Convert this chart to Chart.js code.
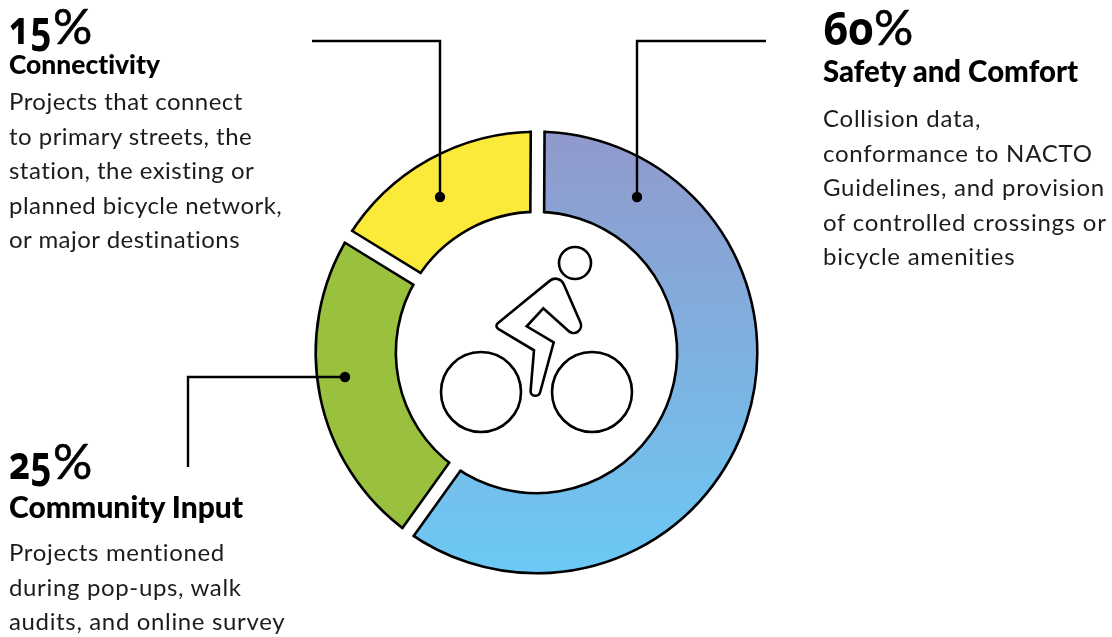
<!DOCTYPE html>
<html>
<head>
<meta charset="utf-8">
<title>Project scoring criteria</title>
<script src="https://cdn.jsdelivr.net/npm/chart.js@4"></script>
<style>
  html, body { margin: 0; padding: 0; background: #fff; }
  #wrap { position: relative; width: 1112px; height: 637px; overflow: hidden; font-family: Lato, sans-serif; color: #1c1c1c; font-variant-ligatures: none; }
  #myChart { position: absolute; left: 0; top: 0; }
  .pct, .title, .body { position: absolute; white-space: nowrap; }
  .pct { font-family: "Open Sans", sans-serif; font-size: 46px; line-height: 50px; color: #000; font-feature-settings: "onum"; }
  .pct b { font-weight: 700; display: inline-block; transform-origin: left; }
  .pct span { font-family: Lato, sans-serif; font-weight: 400; font-size: 49px; -webkit-text-stroke: 0.6px #000; }
  .title { font-weight: 900; color: #000; }
  .body { font-size: 24px; line-height: 34.5px; }
</style>
</head>
<body>
<div id="wrap">
  <canvas id="myChart" width="1112" height="637"></canvas>
</div>
<script>
const categories = ["Safety and Comfort", "Community Input", "Connectivity"];
const printedShares = [60, 25, 15];
// slice sizes as drawn in the picture, the yellow one is a bit over its printed 15%
const sliceValues = [59.8, 23.9, 16.3];
const descriptions = [
  ["Collision data,", "conformance to NACTO", "Guidelines, and provision", "of controlled crossings or", "bicycle amenities"],
  ["Projects mentioned", "during pop-ups, walk", "audits, and online survey"],
  ["Projects that connect", "to primary streets, the", "station, the existing or", "planned bicycle network,", "or major destinations"],
];

// text blocks: x, y of percent, title and body, title size, body tracking, digit squeeze
const textSpots = [
  { x: 823, pct: 1, title: 53, size: 29.4, body: 101, track: 0.75, squeeze: 0.95, pull: -2 },
  { x: 9, pct: 435, title: 488, size: 30, body: 535, track: 0.65, squeeze: 0.8, pull: -9 },
  { x: 9, pct: 0, title: 48, size: 26.4, body: 84, track: 0.47, squeeze: 0.8, pull: -9 },
];

const wrap = document.getElementById("wrap");
function addText(cls, x, y, html) {
  const el = document.createElement("div");
  el.className = cls;
  el.style.left = x + "px";
  el.style.top = y + "px";
  el.innerHTML = html;
  wrap.appendChild(el);
  return el;
}
categories.forEach(function (name, i) {
  const s = textSpots[i];
  const pct = addText("pct", s.x, s.pct, "<b>" + printedShares[i] + "</b><span>%</span>");
  pct.firstChild.style.transform = "scaleX(" + s.squeeze + ")";
  pct.firstChild.style.marginRight = s.pull + "px";
  addText("title", s.x, s.title, name).style.fontSize = s.size + "px";
  addText("body", s.x, s.body, descriptions[i].join("<br>")).style.letterSpacing = s.track + "px";
});

// leader lines from the text to the ring
const leaders = [
  [[766, 41], [637, 41], [637, 197]],
  [[188, 467], [188, 377], [345, 377]],
  [[312, 41], [440, 41], [440, 197]],
];
const gapHalfWidth = 6.9;

function roundedShape(c, pts) {
  const last = pts[pts.length - 1];
  c.beginPath();
  c.moveTo((last[0] + pts[0][0]) / 2, (last[1] + pts[0][1]) / 2);
  pts.forEach(function (p, i) {
    const next = pts[(i + 1) % pts.length];
    c.arcTo(p[0], p[1], next[0], next[1], p[2]);
  });
  c.closePath();
  c.stroke();
}

// straight-sided gaps between the slices, chart.js spacing makes them wedge shaped
const gaps = {
  id: "gaps",
  afterDatasetsDraw: function (chart) {
    const c = chart.ctx;
    const arcs = chart.getDatasetMeta(0).data;
    c.save();
    arcs.forEach(function (arc) {
      const cx = arc.x;
      const cy = arc.y;
      const ux = Math.cos(arc.startAngle);
      const uy = Math.sin(arc.startAngle);
      c.strokeStyle = "#fff";
      c.lineWidth = gapHalfWidth * 2;
      c.lineCap = "butt";
      c.beginPath();
      c.moveTo(cx + ux * (arc.innerRadius - 3), cy + uy * (arc.innerRadius - 3));
      c.lineTo(cx + ux * (arc.outerRadius + 3), cy + uy * (arc.outerRadius + 3));
      c.stroke();
      c.strokeStyle = "#000";
      c.lineWidth = 2.6;
      c.lineCap = "square";
      [-gapHalfWidth, gapHalfWidth].forEach(function (d) {
        const a = Math.sqrt(arc.innerRadius * arc.innerRadius - d * d);
        const b = Math.sqrt(arc.outerRadius * arc.outerRadius - d * d);
        c.beginPath();
        c.moveTo(cx + ux * a - uy * d, cy + uy * a + ux * d);
        c.lineTo(cx + ux * b - uy * d, cy + uy * b + ux * d);
        c.stroke();
      });
    });
    c.restore();
  },
};

const overlay = {
  id: "overlay",
  afterDraw: function (chart) {
    const c = chart.ctx;
    c.save();
    c.strokeStyle = "#000";
    c.fillStyle = "#000";
    c.lineWidth = 2.4;
    c.lineJoin = "miter";
    leaders.forEach(function (line) {
      c.beginPath();
      line.forEach(function (p, i) {
        if (i === 0) c.moveTo(p[0], p[1]);
        else c.lineTo(p[0], p[1]);
      });
      c.stroke();
      const end = line[line.length - 1];
      c.beginPath();
      c.arc(end[0], end[1], 5.2, 0, Math.PI * 2);
      c.fill();
    });

    // rider in the middle
    c.lineWidth = 2.6;
    [[575, 263, 16], [481, 392, 40], [592, 392, 40]].forEach(function (o) {
      c.beginPath();
      c.arc(o[0], o[1], o[2], 0, Math.PI * 2);
      c.stroke();
    });
    roundedShape(c, [
      [559, 273.3, 8.8],
      [594.3, 354.3, 7.5],
      [543.3, 308.3, 0],
      [526.7, 326.3, 0],
      [553.7, 342.3, 0],
      [539.2, 395.7, 4.3],
      [530.2, 395.7, 4.3],
      [534, 350.3, 0],
      [493.9, 326.3, 3.5],
    ]);
    c.restore();
  },
};

const chart = new Chart(document.getElementById("myChart"), {
  type: "doughnut",
  data: {
    labels: categories,
    datasets: [
      {
        data: sliceValues,
        backgroundColor: function (context) {
          if (context.dataIndex === 0) {
            const g = context.chart.ctx.createLinearGradient(0, 131, 0, 574);
            g.addColorStop(0, "#9199CB");
            g.addColorStop(1, "#6CC9F5");
            return g;
          }
          return ["", "#99C13D", "#FCEA3A"][context.dataIndex];
        },
        borderColor: "#000",
        borderWidth: 2.6,
        borderJoinStyle: "miter",
      },
    ],
  },
  options: {
    responsive: false,
    animation: false,
    rotation: 0.3,
    radius: 220.8,
    cutout: "63.7%",
    layout: { padding: { right: 39, top: 68 } },
    plugins: {
      legend: { display: false },
      tooltip: { enabled: false },
    },
  },
  plugins: [gaps, overlay],
});
</script>
</body>
</html>
